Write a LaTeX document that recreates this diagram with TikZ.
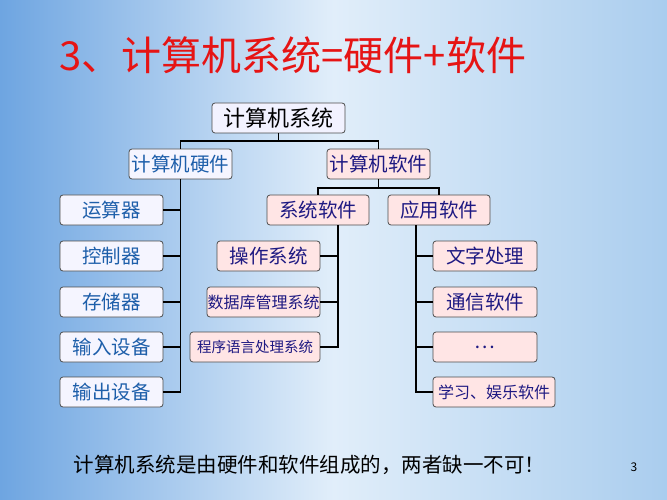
\documentclass[tikz,border=0pt]{standalone}
\usepackage{fontspec}
\setmainfont{Noto Sans CJK SC}
\begin{document}
\begin{tikzpicture}[x=1pt,y=-1pt,
 bx/.style={draw=black!70,line width=0.8pt,rounded corners=3pt,inner sep=0pt,minimum height=30pt,font=\fontsize{19.5}{21}\selectfont},
 hw/.style={bx,fill=blue!4,text={rgb,255:red,30;green,95;blue,170}},
 sw/.style={bx,fill=red!10,text={rgb,255:red,30;green,25;blue,130}},
 ln/.style={line width=1.6pt,black}]
\shade[left color={rgb,255:red,110;green,165;blue,225},right color={rgb,255:red,170;green,205;blue,238},middle color={rgb,255:red,225;green,238;blue,250}] (0,0) rectangle (667,500);
\useasboundingbox (0,0) rectangle (667,500);
\node[text={rgb,255:red,230;green,20;blue,20},font=\fontsize{40}{44}\selectfont,anchor=west] (title) at (56,55) {3、计算机系统=硬件+软件};
\node[bx,fill=white!95!blue,minimum width=133pt,font=\fontsize{22}{24}\selectfont] (root) at (278.5,118) {计算机系统};
\node[hw,minimum width=103pt] (hw) at (180.5,164) {计算机硬件};
\node[sw,minimum width=103pt] (sw) at (378.5,164) {计算机软件};
\foreach \n/\t/\y in {a/运算器/210,b/控制器/256,c/存储器/302,d/输入设备/347,e/输出设备/392}
  \node[hw,minimum width=103pt] (\n) at (111.5,\y) {\t};
\node[sw,minimum width=102pt] (sys) at (318,210) {系统软件};
\node[sw,minimum width=102pt] (app) at (439,210) {应用软件};
\node[sw,minimum width=103pt] (s1) at (268.5,256) {操作系统};
\node[sw,minimum width=113pt,font=\fontsize{16}{18}\selectfont] (s2) at (263.5,302) {数据库管理系统};
\node[sw,minimum width=130pt,font=\fontsize{14.5}{16}\selectfont] (s3) at (255,347) {程序语言处理系统};
\node[sw,minimum width=104pt] (p1) at (485,256) {文字处理};
\node[sw,minimum width=104pt] (p2) at (485,302) {通信软件};
\node[sw,minimum width=104pt] (p3) at (485,347) {…};
\node[sw,minimum width=122pt,font=\fontsize{16}{18}\selectfont] (p4) at (494,392) {学习、娱乐软件};
% connectors
\coordinate (j0) at (278.5,141);
\draw[ln] (root.south) -- (j0);
\draw[ln] (hw.north) |- (j0) -| (sw.north);
\draw[ln] (hw.south) -- (hw.south |- e.east) -- (e.east);
\foreach \n in {a,b,c,d} \draw[ln] (\n.east) -- (\n.east -| hw.south);
\coordinate (j1) at (378.5,188);
\draw[ln] (sw.south) -- (j1);
\draw[ln] (sys.north) |- (j1) -| (app.north);
\coordinate (v1) at (338,225);
\draw[ln] (v1) -- (v1 |- s3.east) -- (s3.east);
\foreach \n in {s1,s2} \draw[ln] (\n.east) -- (\n.east -| v1);
\coordinate (v2) at (416,225);
\draw[ln] (v2) -- (v2 |- p4.west) -- (p4.west);
\foreach \n in {p1,p2,p3} \draw[ln] (\n.west) -- (\n.west -| v2);
\node[font=\fontsize{20.5}{22}\selectfont,anchor=west] (foot) at (70,465) {计算机系统是由硬件和软件组成的，两者缺一不可！};
\node[font=\fontsize{12}{14}\selectfont] (pg) at (634,467) {3};
\end{tikzpicture}
\end{document}
